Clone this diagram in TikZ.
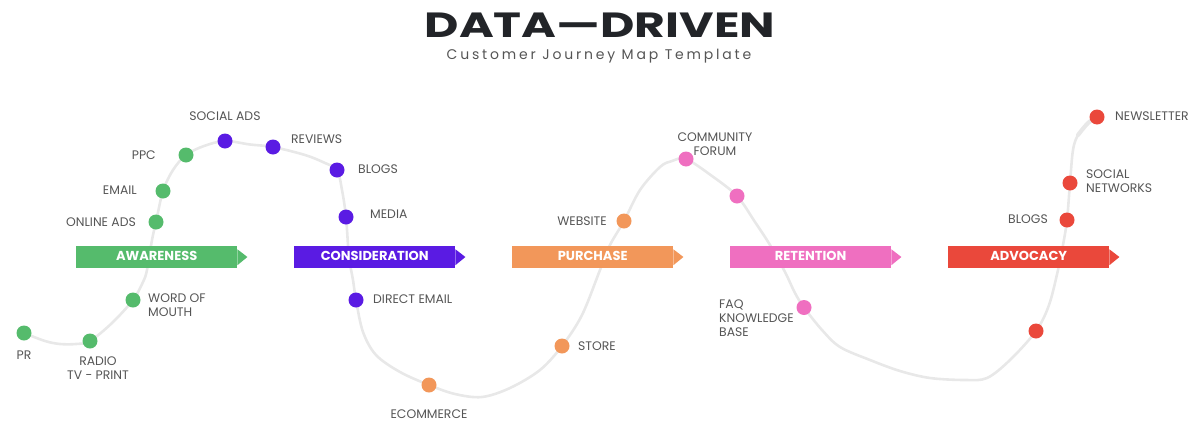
\documentclass[tikz,border=0pt]{standalone}
\usepackage{fontspec}
\usetikzlibrary{backgrounds}
\setmainfont{Poppins}
\newfontfamily\subfont[LetterSpace=20]{Poppins}
\definecolor{cgreen}{HTML}{55BB6C}
\definecolor{cpurple}{HTML}{5A1BE3}
\definecolor{corange}{HTML}{F2975A}
\definecolor{cpink}{HTML}{EF6FC0}
\definecolor{cred}{HTML}{EA483B}
\definecolor{ctext}{HTML}{555555}
\definecolor{cpath}{HTML}{E8E8E8}
\definecolor{ctitle}{HTML}{222428}
\tikzset{
  x=1pt,y=-1pt,
  dot/.style={circle,minimum size=15pt,inner sep=0pt,fill=#1},
  lab/.style={inner sep=0pt,text=ctext,font=\fontsize{12.4}{14}\selectfont},
  labl/.style={lab,anchor=west,align=left},
  labr/.style={lab,anchor=east,align=right},
  labc/.style={lab,anchor=center,align=center},
  banner/.style={rectangle,inner sep=0pt,minimum width=161pt,minimum height=22pt,fill=#1,text depth=2pt,
    text=white,font=\fontsize{13}{14}\selectfont\bfseries,anchor=west},
  journey/.style={draw=cpath,line width=2.6pt,line cap=round,line join=round}
}
\newcommand{\bannertip}[2]{\fill[#2] ([yshift=-3.5pt]#1.north east) -- ([xshift=10pt]#1.east) -- ([yshift=3pt]#1.south east) -- cycle;}
\begin{document}
\begin{tikzpicture}
\useasboundingbox (0,0) rectangle (1200,426);
\node[inner sep=0pt,text=ctitle,anchor=center] (title) at (600,25.5)
  {\scalebox{1.35}[1.0]{\fontsize{35}{35}\selectfont\bfseries DATA—DRIVEN}};
\node[inner sep=0pt,text=ctext,anchor=center,font=\fontsize{14}{16}\selectfont\subfont] (subtitle) at (599,56.5) {Customer Journey Map Template};

% banners
\node[banner=cgreen] (bawareness) at (76,257) {AWARENESS};
\node[banner=cpurple] (bconsideration) at (294,257) {CONSIDERATION};
\node[banner=corange] (bpurchase) at (512,257) {PURCHASE};
\node[banner=cpink] (bretention) at (730,257) {RETENTION};
\node[banner=cred] (badvocacy) at (948,257) {ADVOCACY};
\bannertip{bawareness}{cgreen}
\bannertip{bconsideration}{cpurple}
\bannertip{bpurchase}{corange}
\bannertip{bretention}{cpink}
\bannertip{badvocacy}{cred}

% dots
\node[dot=cgreen] (pr) at (24,333) {};
\node[dot=cgreen] (radio) at (90,341) {};
\node[dot=cgreen] (wom) at (133,300) {};
\node[dot=cgreen] (online) at (156,222) {};
\node[dot=cgreen] (email) at (163,191) {};
\node[dot=cgreen] (ppc) at (186,155) {};
\node[dot=cpurple] (socialads) at (225,141) {};
\node[dot=cpurple] (reviews) at (273,147) {};
\node[dot=cpurple] (blogsa) at (337,170) {};
\node[dot=cpurple] (media) at (346,217) {};
\node[dot=cpurple] (direct) at (356,300) {};
\node[dot=corange] (ecommerce) at (429,385) {};
\node[dot=corange] (store) at (562,346) {};
\node[dot=corange] (website) at (624,221) {};
\node[dot=cpink] (forum) at (686,159) {};
\node[dot=cpink] (ret) at (737,196) {};
\node[dot=cpink] (faq) at (804,307.5) {};
\node[dot=cred] (adv) at (1036,331) {};
\node[dot=cred] (blogsb) at (1067,220) {};
\node[dot=cred] (social) at (1070,183) {};
\node[dot=cred] (news) at (1097,117) {};

% labels
\node[labc] (lsocialads) at (225,116.5) {SOCIAL ADS};
\node[labl] (lreviews) at (291,139.5) {REVIEWS};
\node[labr] (lppc) at (156,155.5) {PPC};
\node[labr] (lemail) at (137,190.5) {EMAIL};
\node[labr] (lonline) at (136,222.5) {ONLINE ADS};
\node[labl] (lwom) at (148,305.5) {WORD OF\\MOUTH};
\node[labc] (lpr) at (24,355.5) {PR};
\node[labc] (lradio) at (98,368) {RADIO\\TV - PRINT};
\node[labl] (lblogsa) at (358,169.5) {BLOGS};
\node[labl] (lmedia) at (370,214.5) {MEDIA};
\node[labl] (ldirect) at (373,299.5) {DIRECT EMAIL};
\node[labc] (lecommerce) at (429,414.5) {ECOMMERCE};
\node[labl] (lstore) at (578,346) {STORE};
\node[labr] (lwebsite) at (607,221.5) {WEBSITE};
\node[labc] (lforum) at (715,144.5) {COMMUNITY\\FORUM};
\node[labl] (lfaq) at (719,318) {FAQ\\KNOWLEDGE\\BASE};
\node[labr] (lblogsb) at (1048,219.5) {BLOGS};
\node[labl] (lsocial) at (1086,181) {SOCIAL\\NETWORKS};
\node[labl] (lnews) at (1115,116.5) {NEWSLETTER};

% waypoints of the journey line
\coordinate (a1) at (45,341);
\coordinate (a2) at (60,344);
\coordinate (a3) at (76,344);
\coordinate (a4) at (112,323);
\coordinate (a5) at (143,282);
\coordinate (a6) at (147,270);
\coordinate (a7) at (152,240);
\coordinate (a8) at (173,170);
\coordinate (a9) at (204,146);
\coordinate (a10) at (250,144.5);
\coordinate (a11) at (305,155);
\coordinate (a12) at (325,163);
\coordinate (a13) at (342,190);
\coordinate (a14) at (349,257);
\coordinate (a15) at (353,280);
\coordinate (a16) at (363,332);
\coordinate (a17) at (376,355);
\coordinate (a18) at (400,372);
\coordinate (a19) at (455,394);
\coordinate (a20) at (482,397);
\coordinate (a21) at (510,388);
\coordinate (a22) at (540,370);
\coordinate (a23) at (582,315);
\coordinate (a24) at (600,270);
\coordinate (a25) at (610,245);
\coordinate (a26) at (640,190);
\coordinate (a27) at (660,167);
\coordinate (a28) at (672,161);
\coordinate (a29) at (712,176);
\coordinate (a30) at (755,222);
\coordinate (a31) at (770,245);
\coordinate (a32) at (785,272);
\coordinate (a33) at (795,293);
\coordinate (a34) at (822,330);
\coordinate (a35) at (840,347);
\coordinate (a36) at (870,360);
\coordinate (a37) at (900,371);
\coordinate (a38) at (930,378);
\coordinate (a39) at (965,380);
\coordinate (a40) at (987,378);
\coordinate (a41) at (1010,360);
\coordinate (a42) at (1049,305);
\coordinate (a43) at (1058,270);
\coordinate (a44) at (1063,245);
\coordinate (a45) at (1073,150);
\coordinate (a46) at (1078,135);
\coordinate (a47) at (1088,123);

\begin{pgfonlayer}{background}
\draw[journey] plot[smooth,tension=0.55] coordinates {
  (pr.center) (a1) (a2) (a3) (radio.center) (a4) (wom.center) (a5) (a6) (a7) (online.center) (email.center) (a8) (ppc.center)
  (a9) (socialads.center) (a10) (reviews.center) (a11) (a12) (blogsa.center) (a13) (media.center) (a14) (a15) (direct.center) (a16) (a17) (a18)
  (ecommerce.center) (a19) (a20) (a21) (a22) (store.center) (a23) (a24) (a25) (website.center) (a26) (a27) (a28) (forum.center) (a29)
  (ret.center) (a30) (a31) (a32) (a33) (faq.center) (a34) (a35) (a36) (a37) (a38) (a39) (a40) (a41) (adv.center) (a42) (a43) (a44)
  (blogsb.center) (social.center) (a45) (a46) (a47) (news.center)};
\draw[journey,line width=4.2pt] plot[smooth,tension=0.55] coordinates {(a46) (a47) (news.center)};
\end{pgfonlayer}
\end{tikzpicture}
\end{document}
